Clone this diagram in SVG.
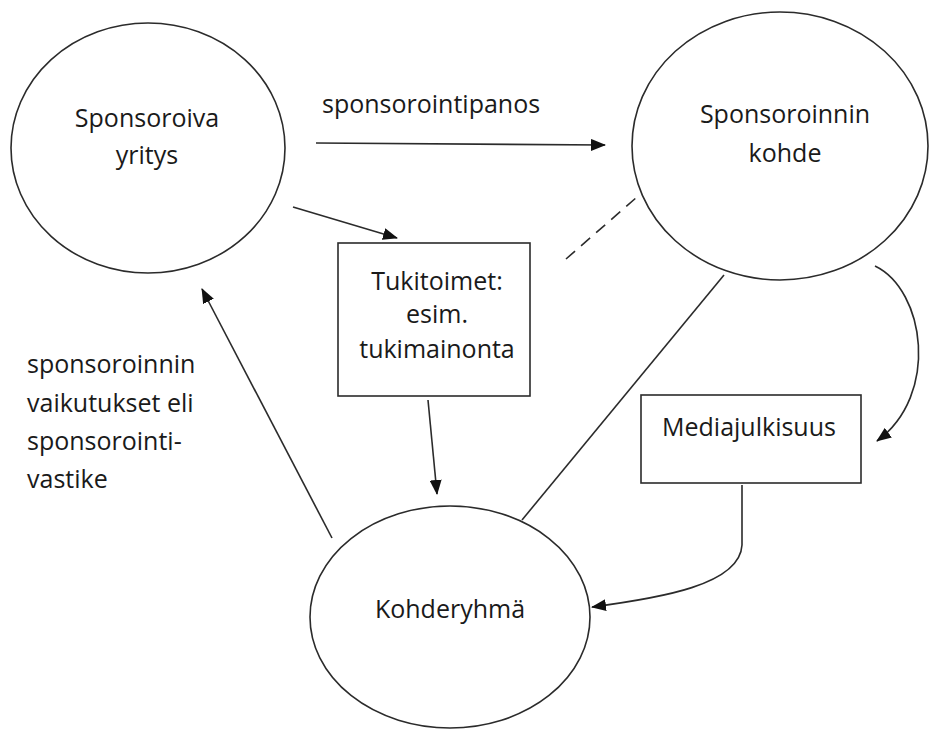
<svg xmlns="http://www.w3.org/2000/svg" width="929" height="731" viewBox="0 0 929 731">
<style>
.shape{fill:#fff;stroke:#2b2b2b;stroke-width:1.6}
.t{font-family:"Open Sans","Noto Sans",sans-serif;font-size:25px;fill:#1a1a1a}
.c{text-anchor:middle}
.ln{fill:none;stroke:#2b2b2b;stroke-width:1.6}
.dash{stroke-dasharray:12,8}
</style>
<defs>
<marker id="arr" markerUnits="userSpaceOnUse" markerWidth="15" markerHeight="12" refX="14" refY="6" orient="auto">
<path d="M0,0 L15,6 L0,12 z" fill="#111"/>
</marker>
</defs>
<rect width="929" height="731" fill="#fff"/>
<g id="connectors">
<line class="ln" x1="316" y1="143" x2="605" y2="145" marker-end="url(#arr)"/>
<line class="ln" x1="293" y1="207" x2="397" y2="238" marker-end="url(#arr)"/>
<line class="ln dash" x1="566" y1="259" x2="637" y2="197"/>
<line class="ln" x1="428" y1="400" x2="437" y2="494" marker-end="url(#arr)"/>
<line class="ln" x1="332" y1="538" x2="202" y2="289" marker-end="url(#arr)"/>
<line class="ln" x1="522" y1="520" x2="724" y2="275"/>
<path class="ln" d="M875,266 C925,290 940,395 877,441" marker-end="url(#arr)"/>
<path class="ln" d="M742,485 L742,545 C740,585 660,598 592,607" marker-end="url(#arr)"/>
</g>
<g id="sponsoroiva-yritys">
<ellipse class="shape" cx="148" cy="148" rx="137" ry="125"/>
<text class="t c" x="147" y="127">Sponsoroiva</text>
<text class="t c" x="147" y="164">yritys</text>
</g>
<g id="sponsoroinnin-kohde">
<ellipse class="shape" cx="780" cy="146" rx="148" ry="134"/>
<text class="t c" x="785" y="123">Sponsoroinnin</text>
<text class="t c" x="785" y="162">kohde</text>
</g>
<g id="kohderyhma">
<ellipse class="shape" cx="450" cy="617" rx="140" ry="111"/>
<text class="t c" x="450" y="618">Kohderyhmä</text>
</g>
<g id="tukitoimet">
<rect class="shape" x="338" y="243" width="192" height="153"/>
<text class="t c" x="437" y="290">Tukitoimet:</text>
<text class="t c" x="437" y="323">esim.</text>
<text class="t c" x="437" y="358">tukimainonta</text>
</g>
<g id="mediajulkisuus">
<rect class="shape" x="641" y="395" width="220" height="88"/>
<text class="t c" x="749" y="436">Mediajulkisuus</text>
</g>
<g id="labels">
<text class="t" x="322" y="113">sponsorointipanos</text>
<text class="t" x="27" y="373">sponsoroinnin</text>
<text class="t" x="27" y="412">vaikutukset eli</text>
<text class="t" x="27" y="450">sponsorointi-</text>
<text class="t" x="27" y="488">vastike</text>
</g>
</svg>
